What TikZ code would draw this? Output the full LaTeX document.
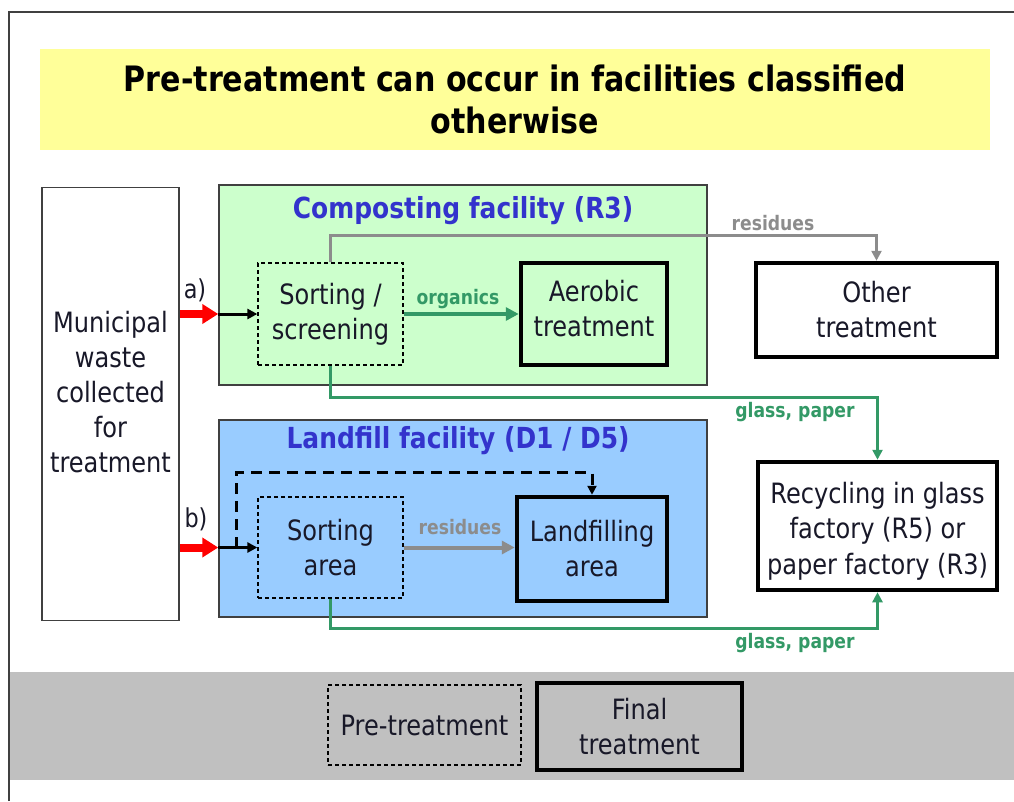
\documentclass[tikz,border=0pt]{standalone}
\usepackage{fontspec}
\setmainfont{DejaVu Sans}[FakeStretch=0.86]
\usetikzlibrary{positioning}
\usetikzlibrary{arrows.meta}
\definecolor{titlebg}{RGB}{255,255,153}
\definecolor{compbg}{RGB}{204,255,204}
\definecolor{landbg}{RGB}{153,204,255}
\definecolor{legendbg}{RGB}{192,192,192}
\definecolor{facblue}{RGB}{51,51,204}
\definecolor{flowgreen}{RGB}{51,153,102}
\definecolor{flowgray}{RGB}{140,140,140}
\definecolor{framegray}{RGB}{64,64,64}
\definecolor{textdark}{RGB}{24,24,40}
\tikzset{
every node/.style={ % Plain text inside the boxes
inner sep=0pt,
align=center,
text=textdark,
font=\fontsize{28}{35}\selectfont},
facility/.style={draw=framegray, line width=1.5pt},
factitle/.style={text=facblue, font=\bfseries\fontsize{29}{34}\selectfont},
pretreat/.style={draw, line width=1.3pt, dash pattern=on 4pt off 3pt},
finaltreat/.style={draw, line width=4.5pt},
inflow/.style={red, line width=8pt, -{Triangle[length=16pt, width=19pt]}},
feed/.style={black, line width=3pt, -{Triangle[length=10pt, width=10pt]}},
bypass/.style={black, line width=3pt, dash pattern=on 11pt off 7pt, -{Triangle[length=9pt, width=9pt]}},
greenflow/.style={flowgreen, line width=2.5pt, -{Triangle[length=10pt, width=10pt]}},
grayflow/.style={flowgray, line width=2.5pt, -{Triangle[length=10pt, width=10pt]}},
flowlabel/.style={font=\bfseries\fontsize{20}{22}\selectfont},
edgelabel/.style={font=\fontsize{26}{30}\selectfont}}

\begin{document}
\begin{tikzpicture}[x=1pt, y=-1pt]
\useasboundingbox (0,0) rectangle (1014,801);
\fill[legendbg] (9,672) rectangle (1014,780);
\draw[framegray, line width=2pt] (9,801) -- (9,12) -- (1014,12);
\node[fill=titlebg, minimum width=950, minimum height=101, text=black,
  font=\bfseries\fontsize{35}{42}\selectfont] (title) at (515,99.5) {Pre-treatment can occur in facilities classified\\otherwise};
\node[facility, fill=white, minimum width=137, minimum height=433] (waste) at (110.5,404) {};
\node (wastetext) at (110.5,392) {Municipal\\waste\\collected\\for\\treatment};
\node[facility, fill=compbg, minimum width=488, minimum height=200] (comp) at (463,285) {};
\node[factitle] (comptitle) at (463,211) {Composting facility (R3)};
\node[facility, fill=landbg, minimum width=488, minimum height=197] (land) at (463,518.5) {};
\node[factitle] (landtitle) at (458,441) {Landfill facility (D1 / D5)};
\node[pretreat, minimum width=145, minimum height=102] (screen) at (330.5,314) {Sorting /\\screening};
\node[finaltreat, minimum width=146, minimum height=102] (aerobic) at (594,314) {};
\node (aerobictext) at (594,309) {Aerobic\\treatment};
\node[finaltreat, fill=white, minimum width=241, minimum height=94] (other) at (876.5,310) {Other\\treatment};
\node[finaltreat, fill=white, minimum width=239, minimum height=128] (recycle) at (877.5,526) {};
\node[font=\fontsize{28}{35.5}\selectfont] (recycletext) at (877.5,531) {Recycling in glass\\factory (R5) or\\paper factory (R3)};
\node[pretreat, minimum width=145, minimum height=101] (sortarea) at (330.5,547.5) {Sorting\\area};
\node[finaltreat, minimum width=150, minimum height=104] (landfill) at (592,549) {Landfilling\\area};
\node[pretreat, minimum width=193, minimum height=80] (keypre) at (424.5,725) {Pre-treatment};
\node[finaltreat, minimum width=205, minimum height=87] (keyfinal) at (639.5,726.5) {Final\\treatment};
% route a) through the composting facility
\draw[inflow] (waste.east |- screen.west) -- (comp.west |- screen.west);
\draw[feed] (comp.west |- screen.west) -- (screen.west);
\node[edgelabel] (labela) at (195,290) {a)};
\draw[greenflow, line width=4pt, -{Triangle[length=13pt, width=13pt]}] (screen.east) -- (aerobic.west);
\node[flowlabel, text=flowgreen] (organics) at (458,299) {organics};
\draw[grayflow] (screen.north) -- ++(0,-27) -| (other.north);
\node[flowlabel, text=flowgray] (residuesa) at (773,223) {residues};
\draw[greenflow] (screen.south) -- ++(0,32) -| (recycle.north);
\node[flowlabel, text=flowgreen] (glassa) at (795,412) {glass, paper};
% route b) through the landfill facility
\draw[inflow] (waste.east |- sortarea.west) -- (land.west |- sortarea.west);
\draw[feed] (land.west |- sortarea.west) -- (sortarea.west);
\node[edgelabel] (labelb) at (196,519) {b)};
\coordinate (fork) at (236,547.5);
\draw[bypass] (fork) -- ++(0,-75) -| (landfill.north);
\draw[grayflow, line width=4pt, -{Triangle[length=13pt, width=13pt]}] (sortarea.east) -- (sortarea.east -| landfill.west);
\node[flowlabel, text=flowgray] (residuesb) at (460,527) {residues};
\draw[greenflow] (sortarea.south) -- ++(0,30) -| (recycle.south);
\node[flowlabel, text=flowgreen] (glassb) at (795,643) {glass, paper};
\end{tikzpicture}
\end{document}
